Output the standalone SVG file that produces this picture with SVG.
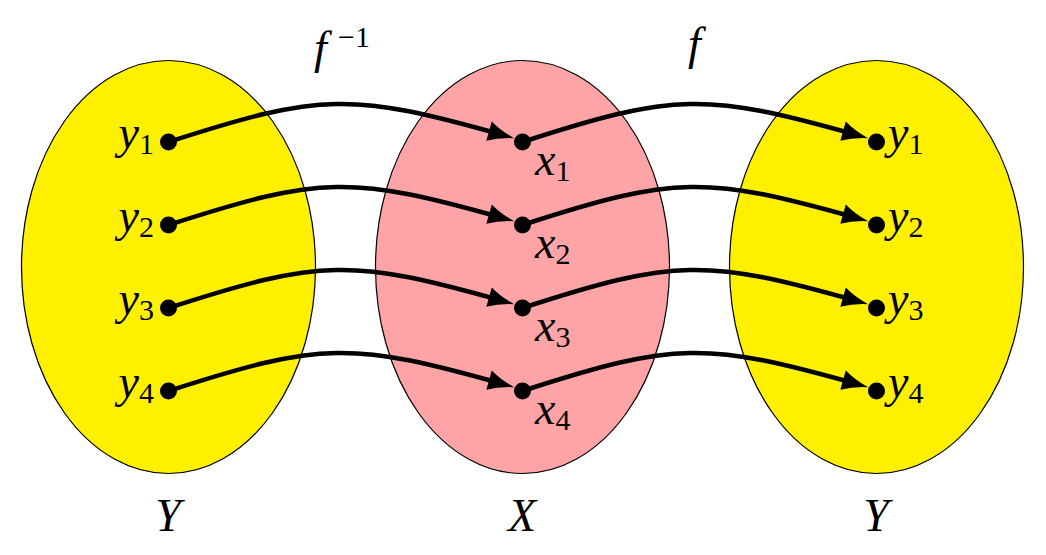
<svg xmlns="http://www.w3.org/2000/svg" width="1046" height="555" viewBox="0 0 1046 555">
<style>
.set{stroke:#000;stroke-width:1.2}
.yel{fill:#FFF000}
.pink{fill:#FFA4A6}
.lbl{font-family:"Liberation Serif","DejaVu Serif",serif;font-style:italic;font-size:46px;fill:#000}
.sub{font-style:normal;font-size:30px}
.edge{fill:none;stroke:#000;stroke-width:4.5;marker-end:url(#arr)}
.dot{fill:#000}
</style>
<defs>
<marker id="arr" markerUnits="userSpaceOnUse" markerWidth="40" markerHeight="40" viewBox="-5 -20 40 40" refX="15" refY="0" orient="auto" overflow="visible">
<path d="M0,-10 Q11,-3.5 26,0 Q11,3.5 0,10 Z" fill="#000"/>
</marker>
</defs>
<g id="set-left"><ellipse class="set yel" cx="168.5" cy="267" rx="147" ry="206.5"/></g>
<g id="set-mid"><ellipse class="set pink" cx="522.5" cy="267" rx="147" ry="206.5"/></g>
<g id="set-right"><ellipse class="set yel" cx="876.5" cy="267" rx="147" ry="206.5"/></g>
<g id="connectors">
<path class="edge" d="M168.5,142 C321,92.5 352,92.5 503.5,135.2"/>
<path class="edge" d="M168.5,225 C321,175.5 352,175.5 503.5,218.2"/>
<path class="edge" d="M168.5,308 C321,258.5 352,258.5 503.5,301.2"/>
<path class="edge" d="M168.5,391 C321,341.5 352,341.5 503.5,384.2"/>
<path class="edge" d="M522.5,142 C675,92.5 706,92.5 857.5,135.2"/>
<path class="edge" d="M522.5,225 C675,175.5 706,175.5 857.5,218.2"/>
<path class="edge" d="M522.5,308 C675,258.5 706,258.5 857.5,301.2"/>
<path class="edge" d="M522.5,391 C675,341.5 706,341.5 857.5,384.2"/>
</g>
<g id="left-y1"><circle class="dot" cx="168.5" cy="142" r="8.5"/><text class="lbl" x="154" y="148" text-anchor="end">y<tspan class="sub" dy="6">1</tspan></text></g>
<g id="left-y2"><circle class="dot" cx="168.5" cy="225" r="8.5"/><text class="lbl" x="154" y="231" text-anchor="end">y<tspan class="sub" dy="6">2</tspan></text></g>
<g id="left-y3"><circle class="dot" cx="168.5" cy="308" r="8.5"/><text class="lbl" x="154" y="314" text-anchor="end">y<tspan class="sub" dy="6">3</tspan></text></g>
<g id="left-y4"><circle class="dot" cx="168.5" cy="391" r="8.5"/><text class="lbl" x="154" y="397" text-anchor="end">y<tspan class="sub" dy="6">4</tspan></text></g>
<g id="mid-x1"><circle class="dot" cx="522.5" cy="142" r="8.5"/><text class="lbl" x="535" y="175">x<tspan class="sub" dy="6">1</tspan></text></g>
<g id="mid-x2"><circle class="dot" cx="522.5" cy="225" r="8.5"/><text class="lbl" x="535" y="258">x<tspan class="sub" dy="6">2</tspan></text></g>
<g id="mid-x3"><circle class="dot" cx="522.5" cy="308" r="8.5"/><text class="lbl" x="535" y="341">x<tspan class="sub" dy="6">3</tspan></text></g>
<g id="mid-x4"><circle class="dot" cx="522.5" cy="391" r="8.5"/><text class="lbl" x="535" y="424">x<tspan class="sub" dy="6">4</tspan></text></g>
<g id="right-y1"><circle class="dot" cx="876.5" cy="142" r="8.5"/><text class="lbl" x="888" y="148">y<tspan class="sub" dy="6">1</tspan></text></g>
<g id="right-y2"><circle class="dot" cx="876.5" cy="225" r="8.5"/><text class="lbl" x="888" y="231">y<tspan class="sub" dy="6">2</tspan></text></g>
<g id="right-y3"><circle class="dot" cx="876.5" cy="308" r="8.5"/><text class="lbl" x="888" y="314">y<tspan class="sub" dy="6">3</tspan></text></g>
<g id="right-y4"><circle class="dot" cx="876.5" cy="391" r="8.5"/><text class="lbl" x="888" y="397">y<tspan class="sub" dy="6">4</tspan></text></g>
<g id="label-finv"><text class="lbl" x="314" y="63">f<tspan class="sub" x="338" y="47">−1</tspan></text></g>
<g id="label-f"><text class="lbl" x="688" y="59">f</text></g>
<g id="label-Y-left"><text class="lbl" x="168" y="531" text-anchor="middle">Y</text></g>
<g id="label-X"><text class="lbl" x="522" y="531" text-anchor="middle">X</text></g>
<g id="label-Y-right"><text class="lbl" x="876" y="531" text-anchor="middle">Y</text></g>
</svg>
